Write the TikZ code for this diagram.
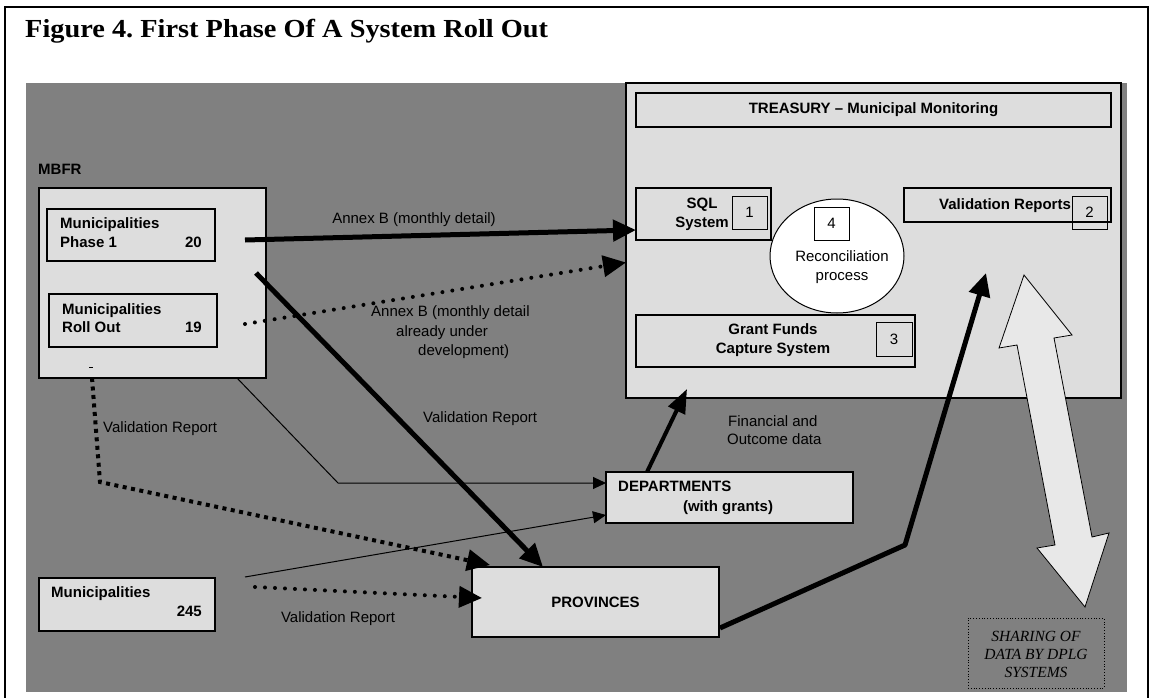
\documentclass[tikz,border=0pt]{standalone}
\usepackage{fontspec}
\setmainfont{Liberation Sans}
\newfontfamily\titleserif{Liberation Serif}
\usetikzlibrary{arrows.meta,calc,shapes.geometric}

\definecolor{fieldgray}{HTML}{808080}
\definecolor{boxgray}{HTML}{DDDDDD}
\definecolor{sharefill}{HTML}{E8E8E8}

\frenchspacing
\begin{document}
\begin{tikzpicture}[x=1pt,y=-1pt,
  panel/.style={draw=black, line width=1.3pt, fill=boxgray, inner sep=0pt, outer sep=0pt, anchor=north west},
  numbox/.style={draw=black, line width=1pt, inner sep=0pt, outer sep=0pt, anchor=north west,
    font=\fontsize{15}{18}\selectfont},
  lbl/.style={font=\fontsize{15}{19}\selectfont, inner sep=0pt},
  blbl/.style={font=\fontsize{15}{19}\selectfont\bfseries, inner sep=0pt},
  bigtip/.style={-{Triangle[length=23pt,width=21pt]}},
  thickarrow/.style={line width=5pt, line join=round, bigtip},
  medarrow/.style={line width=4pt, -{Triangle[length=24pt,width=18pt]}},
  thinarrow/.style={line width=1pt, -{Triangle[length=13pt,width=12pt]}},
  rounddots/.style={line width=4pt, line cap=round, dash pattern=on 0pt off 10pt, bigtip},
  squaredots/.style={line width=4pt, dash pattern=on 4pt off 4.5pt, bigtip}
]
\useasboundingbox (0,0) rectangle (1151,698);

% page frame and caption
\draw[line width=2pt] (5,698) -- (5,7) -- (1148,7) -- (1148,698);
\node[anchor=base west, inner sep=0pt, xscale=1.09,
  font=\titleserif\bfseries\fontsize{26}{32}\selectfont]
  (caption) at (25,38) {Figure 4. First Phase Of A System Roll Out};

% grey field
\fill[fieldgray] (26,83) rectangle (1127,692);

% ---------- Treasury ----------
\node[panel, minimum width=495pt, minimum height=315pt] (treas) at (626,83) {};
\node[panel, minimum width=475pt, minimum height=34pt, font=\fontsize{15}{18}\selectfont\bfseries]
  (ttl) at (636,93) {TREASURY – Municipal Monitoring};

\node[panel, minimum width=135pt, minimum height=52pt] (sql) at (636,188) {};
\node[blbl, align=center] (sqltxt) at (702,214) {SQL\\System};
\node[numbox, minimum width=35pt, minimum height=33pt] (n1) at (732,196) {1};

\node[draw=black, line width=1pt, ellipse, fill=white, minimum width=134pt, minimum height=114pt,
  inner sep=0pt] (recon) at (837,256) {};
\node[numbox, fill=white, minimum width=35pt, minimum height=33pt] (n4) at (814,207) {4};
\node[lbl, align=center] (recontxt) at (842,267) {Reconciliation\\process};

\node[panel, minimum width=207pt, minimum height=34pt] (valrep) at (904,188) {};
\node[blbl] (valreptxt) at (1005,206) {Validation Reports};
\node[numbox, minimum width=35pt, minimum height=33pt] (n2) at (1072,196) {2};

\node[panel, minimum width=279pt, minimum height=52pt] (grant) at (636,315) {};
\node[blbl, align=center] (granttxt) at (773,340) {Grant Funds\\Capture System};
\node[numbox, minimum width=36pt, minimum height=34pt] (n3) at (876,322) {3};

% ---------- MBFR ----------
\node[blbl, anchor=mid west] (mbfrtxt) at (38,172) {MBFR};
\node[panel, minimum width=227pt, minimum height=190pt] (mbfr) at (39,188) {};

\node[panel, minimum width=168pt, minimum height=52pt] (ph1) at (47,209) {};
\node[blbl, anchor=mid west] (ph1a) at (60,226) {Municipalities};
\node[blbl, anchor=mid west] (ph1b) at (60,245) {Phase 1};
\node[blbl, anchor=mid east] (ph1c) at (202,245) {20};

\node[panel, minimum width=168pt, minimum height=53pt] (roll) at (49,294) {};
\node[blbl, anchor=mid west] (rolla) at (62,312) {Municipalities};
\node[blbl, anchor=mid west] (rollb) at (62,330) {Roll Out};
\node[blbl, anchor=mid east] (rollc) at (202,330) {19};

\draw[line width=1pt] (89,367) -- (93,367);

% ---------- lower boxes ----------
\node[panel, minimum width=176pt, minimum height=53pt] (m245) at (39,578) {};
\node[blbl, anchor=mid west] (m245a) at (51,595) {Municipalities};
\node[blbl, anchor=mid east] (m245b) at (202,614) {245};

\node[panel, minimum width=247pt, minimum height=70pt, font=\fontsize{15}{18}\selectfont\bfseries]
  (prov) at (472,567) {PROVINCES};

\node[panel, minimum width=247pt, minimum height=51pt] (dept) at (606,472) {};
\node[blbl, anchor=mid west] (depta) at (618,489) {DEPARTMENTS};
\node[blbl] (deptb) at (728,508) {(with grants)};

% shared-data note
\node[draw=black, line width=0.8pt, dotted, inner sep=0pt, outer sep=0pt, anchor=north west,
  minimum width=136pt, minimum height=70pt] (share) at (968,618) {};
\node[align=center, inner sep=0pt, font=\titleserif\itshape\fontsize{15.5}{18}\selectfont]
  (sharetxt) at (1036,654) {SHARING OF\\DATA BY DPLG\\SYSTEMS};

% ---------- connectors ----------
\coordinate (a1) at (245,240);
\draw[thickarrow] (a1) -- ($(sql.south west)+(0,-10)$);

\coordinate (a2) at (245,324);
\draw[rounddots] (a2) -- ($(treas.west)+(0,22)$);

\coordinate (a3) at (256,273);
\draw[thickarrow] (a3) -- ($(prov.north west)+(71,0)$);

\coordinate (v1) at ($(mbfr.south west)+(53,0)$);
\coordinate (v1b) at (100,482);
\draw[squaredots] (v1) -- (v1b) -- ($(prov.north west)+(18,-2)$);

\coordinate (t1) at (338,483);
\draw[thinarrow] ($(mbfr.south east)+(-29,0)$) -- (t1) -- ($(dept.north west)+(0,11)$);

\coordinate (t2) at (245,577);
\draw[thinarrow] (t2) -- ($(dept.south west)+(0,-8)$);

\coordinate (t3) at (255,587);
\draw[rounddots] (t3) -- ($(prov.west)+(10,-4)$);

\draw[medarrow] ($(dept.north west)+(41,0)$) -- ($(treas.south west)+(61,-9)$);

\coordinate (pbend) at (905,545);
\draw[thickarrow] ($(prov.south east)+(1,-9)$) -- (pbend) -- ($(treas.south west)+(360,-125)$);

% two-way sharing arrow
\draw[line width=0.8pt, fill=sharefill, line join=miter]
  (1024,275) -- (1072,335) -- (1054,338) -- (1092,537) -- (1109,533) -- (1085,607)
  -- (1037,548) -- (1055,545) -- (1017,345) -- (999,348) -- cycle;

% ---------- connector labels ----------
\node[lbl] (l1) at (414,220) {Annex B (monthly detail)};
\node[lbl, anchor=mid west] (l2a) at (371,314) {Annex B (monthly detail};
\node[lbl, anchor=mid west] (l2b) at (396,334) {already under};
\node[lbl, anchor=mid west] (l2c) at (418,353) {development)};
\node[lbl, anchor=mid west] (l3) at (423,420) {Validation Report};
\node[lbl, anchor=mid west] (l4) at (103,430) {Validation Report};
\node[lbl] (l5) at (338,619) {Validation Report};
\node[lbl, anchor=mid west] (l6a) at (728,424) {Financial and};
\node[lbl, anchor=mid west] (l6b) at (727,442) {Outcome data};
\end{tikzpicture}
\end{document}
